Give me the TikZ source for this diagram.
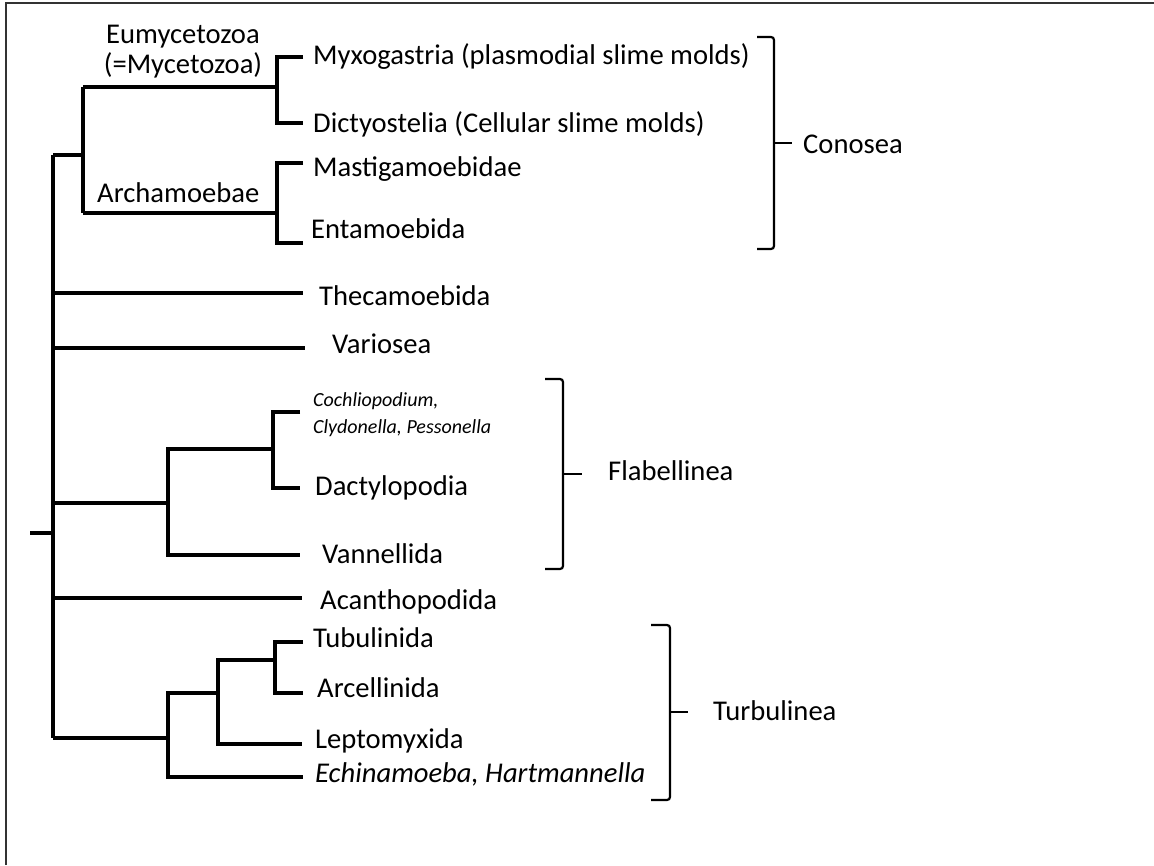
\documentclass[tikz,border=0pt]{standalone}
\usepackage{fontspec}
\setmainfont{Carlito}

\begin{document}
\begin{tikzpicture}[x=1pt,y=-1pt,line join=miter,
  branch/.style={line width=4.5pt},
  bracket/.style={line width=2.2pt,rounded corners=3pt},
  taxon/.style={anchor=base west,inner sep=0pt,font=\fontsize{28.6}{30}\selectfont},
  genera/.style={anchor=north west,inner sep=0pt,align=left,
    font=\fontsize{20}{27}\selectfont\itshape},
  clade/.style={inner sep=0pt,align=center,font=\fontsize{28.6}{30}\selectfont}]

    \useasboundingbox (0,0) rectangle (1154,865);
    \draw[line width=1.5pt,black!80] (6,865) -- (6,3) -- (1154,3);

    % junctions of the tree
    \coordinate (root) at (30,533);
    \coordinate (stem) at (53,533);
    \coordinate (top) at (53,155);
    \coordinate (bottom) at (53,738);
    \coordinate (cono) at (83,155);
    \coordinate (eumy) at (277,87);
    \coordinate (arch) at (277,213);
    \coordinate (flab) at (168,503);
    \coordinate (flab2) at (273,449);
    \coordinate (turb) at (168,738);
    \coordinate (turb2) at (218,693);
    \coordinate (turb3) at (275,660);

    % tips of the tree
    \coordinate (myxo-e) at (303,57);
    \coordinate (dict-e) at (303,123);
    \coordinate (mast-e) at (303,163);
    \coordinate (enta-e) at (303,243);
    \coordinate (thec-e) at (303,293);
    \coordinate (vari-e) at (305,348);
    \coordinate (coch-e) at (300,412);
    \coordinate (dact-e) at (300,488);
    \coordinate (vann-e) at (300,555);
    \coordinate (acan-e) at (302,598);
    \coordinate (tubu-e) at (303,642);
    \coordinate (arce-e) at (303,693);
    \coordinate (lept-e) at (302,744);
    \coordinate (echi-e) at (303,777);

    % taxa
    \node[taxon] (myxo) at (313,64) {Myxogastria (plasmodial slime molds)};
    \node[taxon] (dict) at (313,132) {Dictyostelia (Cellular slime molds)};
    \node[taxon] (mast) at (313,176) {Mastigamoebidae};
    \node[taxon] (enta) at (311,238) {Entamoebida};
    \node[taxon] (thec) at (319,305) {Thecamoebida};
    \node[taxon] (vari) at (332,353) {Variosea};
    \node[genera] (coch) at (313,392) {Cochliopodium,\\Clydonella, Pessonella};
    \node[taxon] (dact) at (315,495) {Dactylopodia};
    \node[taxon] (vann) at (322,563) {Vannellida};
    \node[taxon] (acan) at (320,609) {Acanthopodida};
    \node[taxon] (tubu) at (313,647) {Tubulinida};
    \node[taxon] (arce) at (317,697) {Arcellinida};
    \node[taxon] (lept) at (315,748) {Leptomyxida};
    \node[taxon,font=\fontsize{28.6}{30}\selectfont\itshape] (echi) at (315,782) {Echinamoeba, Hartmannella};

    % clade names
    \node[clade,anchor=north] (eumyname) at (183,25) {Eumycetozoa\\(=Mycetozoa)};
    \node[taxon] (archname) at (97,202) {Archamoebae};
    \node[taxon] (conosea) at (803,153) {Conosea};
    \node[taxon] (flabname) at (608,480) {Flabellinea};
    \node[taxon] (turbname) at (713,720) {Turbulinea};

    % branches
    \draw[branch] (root) -- (stem);
    \draw[branch] (top) -- (bottom);
    \draw[branch] (top) -- (cono);
    \draw[branch] (eumy -| cono) -- (arch -| cono);
    \draw[branch] (eumy -| cono) -- (eumy);
    \draw[branch] (arch -| cono) -- (arch);
    \draw[branch] (myxo-e) -- (myxo-e -| eumy) -- (dict-e -| eumy) -- (dict-e);
    \draw[branch] (mast-e) -- (mast-e -| arch) -- (enta-e -| arch) -- (enta-e);
    \draw[branch] (thec-e -| top) -- (thec-e);
    \draw[branch] (vari-e -| top) -- (vari-e);
    \draw[branch] (flab -| top) -- (flab);
    \draw[branch] (flab2) -- (flab2 -| flab) -- (vann-e -| flab) -- (vann-e);
    \draw[branch] (coch-e) -- (coch-e -| flab2) -- (dact-e -| flab2) -- (dact-e);
    \draw[branch] (acan-e -| top) -- (acan-e);
    \draw[branch] (bottom) -- (turb);
    \draw[branch] (turb2) -- (turb2 -| turb) -- (echi-e -| turb) -- (echi-e);
    \draw[branch] (turb3) -- (turb3 -| turb2) -- (lept-e -| turb2) -- (lept-e);
    \draw[branch] (tubu-e) -- (tubu-e -| turb3) -- (arce-e -| turb3) -- (arce-e);

    % brackets
    \draw[bracket] (757,37) -| (774,249) -- (757,249);
    \draw[bracket] (774,143) -- (792,143);
    \draw[bracket] (545,379) -| (563,569) -- (545,569);
    \draw[bracket] (563,474) -- (582,474);
    \draw[bracket] (651,625) -| (670,800) -- (651,800);
    \draw[bracket] (670,712) -- (688,712);
\end{tikzpicture}
\end{document}
